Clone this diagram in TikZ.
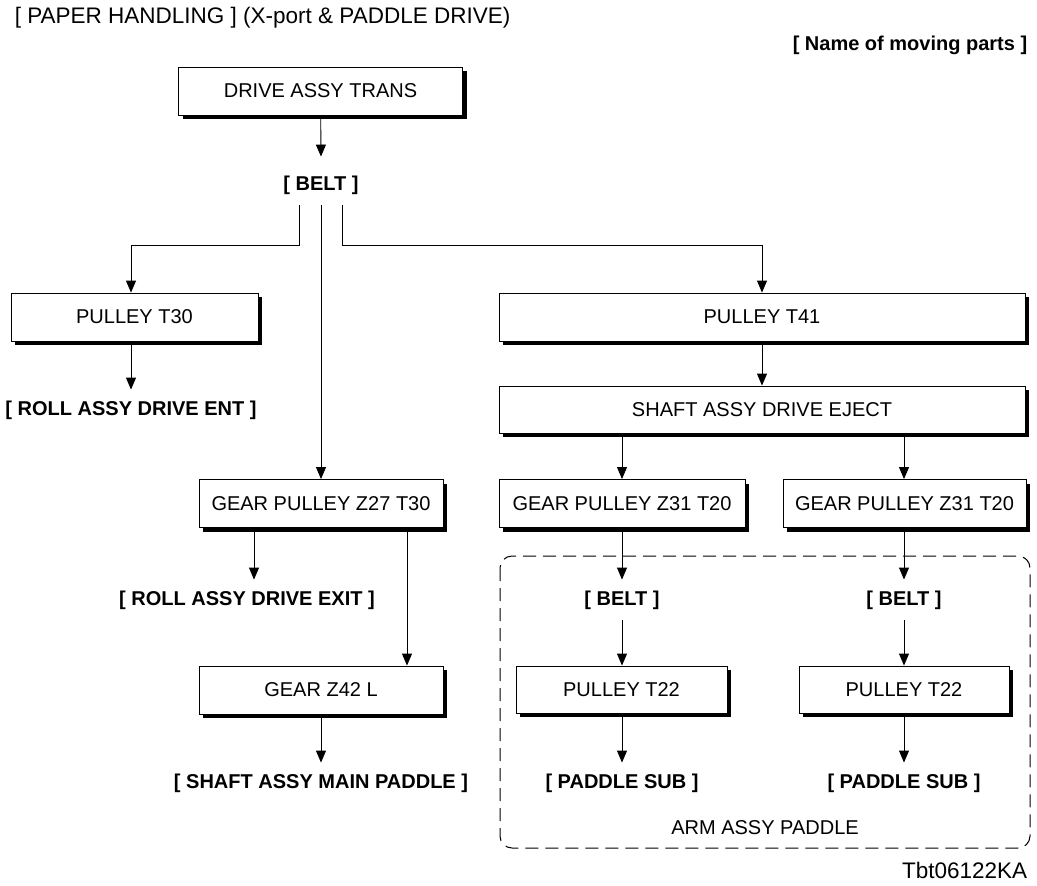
\documentclass[tikz,border=0pt]{standalone}
\usepackage{fontspec}
\setmainfont{Liberation Sans}
\usetikzlibrary{positioning,arrows.meta,shadows}
\newcommand{\partfont}{\fontsize{20}{24}\selectfont}
\newcommand{\headfont}{\fontsize{22.5}{26}\selectfont}
\begin{document}
\begin{tikzpicture}[x=1pt,y=-1pt,line width=0.9pt,
	part/.style={draw,fill=white,line width=0.9pt,minimum height=48pt,inner sep=0pt,font=\partfont,
		drop shadow={shadow xshift=4pt,shadow yshift=-4pt,opacity=1,fill=black}},
	moving/.style={font=\partfont\bfseries,inner sep=0pt,minimum height=40pt},
	arr/.style={-{Triangle[length=12pt,width=10pt]}}]
	\useasboundingbox (0,0) rectangle (1037,886);
	% titles
	\node[anchor=west,font=\headfont] (title) at (11,18) {[ PAPER HANDLING ] (X-port \& PADDLE DRIVE)};
	\node[anchor=east,font=\partfont\bfseries] (legend) at (1031,45) {[ Name of moving parts ]};
	\node[anchor=east,font=\headfont] (fig) at (1031,870) {Tbt06122KA};
	% group
	\draw[dashed,dash pattern=on 13pt off 7pt,line width=1pt,rounded corners=12pt] (500,556) rectangle (1030,848);
	\node[font=\partfont] (arm) at (765,828) {ARM ASSY PADDLE};
	% parts
	\node[part,minimum width=284pt] (trans) at (320.5,91) {DRIVE ASSY TRANS};
	\node[moving] (belt) at (321,185) {[ BELT ]};
	\node[part,minimum width=247pt] (t30) at (134.5,317) {PULLEY T30};
	\node[moving] (ent) at (131,410) {[ ROLL ASSY DRIVE ENT ]};
	\node[part,minimum width=526pt] (t41) at (762,317) {PULLEY T41};
	\node[part,minimum width=526pt,minimum height=47pt] (eject) at (762,409.5) {SHAFT ASSY DRIVE EJECT};
	\node[part,minimum width=244pt] (z27) at (321,503.5) {GEAR PULLEY Z27 T30};
	\node[part,minimum width=246pt] (z31a) at (622,503.5) {GEAR PULLEY Z31 T20};
	\node[part,minimum width=243pt] (z31b) at (904.5,503.5) {GEAR PULLEY Z31 T20};
	\node[moving] (exit) at (247,600) {[ ROLL ASSY DRIVE EXIT ]};
	\node[part,minimum width=244pt] (z42) at (321,690) {GEAR Z42 L};
	\node[moving] (main) at (321,783) {[ SHAFT ASSY MAIN PADDLE ]};
	\node[moving] (belta) at (622,600) {[ BELT ]};
	\node[moving] (beltb) at (904,600) {[ BELT ]};
	\node[part,minimum width=211pt,minimum height=47pt] (t22a) at (621.5,689.5) {PULLEY T22};
	\node[part,minimum width=210pt,minimum height=47pt] (t22b) at (904,689.5) {PULLEY T22};
	\node[moving] (suba) at (622,783) {[ PADDLE SUB ]};
	\node[moving] (subb) at (904,783) {[ PADDLE SUB ]};
	% drive lines
	\draw[arr] (trans) -- ([yshift=8pt]belt.north);
	\draw[arr] ([xshift=-22pt]belt.south) -- ++(0,40) -| (ent.north |- t30.north);
	\draw[arr] (belt.south) -- (z27.north);
	\draw[arr] ([xshift=21pt]belt.south) -- ++(0,40) -| (t41.north);
	\draw[arr] (ent.north |- t30.south) -- (ent.north);
	\draw[arr] (t41) -- (eject);
	\draw[arr] (z31a.north |- eject.south) -- (z31a.north);
	\draw[arr] ([xshift=-0.5pt]z31b.north |- eject.south) -- ([xshift=-0.5pt]z31b.north);
	\draw[arr] ([xshift=-67pt]z27.south) -- ([xshift=-67pt]z27.south |- exit.north);
	\draw[arr] ([xshift=86pt]z27.south) -- ([xshift=86pt]z27.south |- z42.north);
	\draw[arr] (z42) -- (main);
	\draw[arr] (z31a) -- (belta);
	\draw[arr] (beltb |- z31b.south) -- (beltb);
	\draw[arr] (belta.south) -- (belta.south |- t22a.north);
	\draw[arr] (beltb) -- (t22b);
	\draw[arr] (suba |- t22a.south) -- (suba);
	\draw[arr] (t22b) -- (subb);
\end{tikzpicture}
\end{document}
